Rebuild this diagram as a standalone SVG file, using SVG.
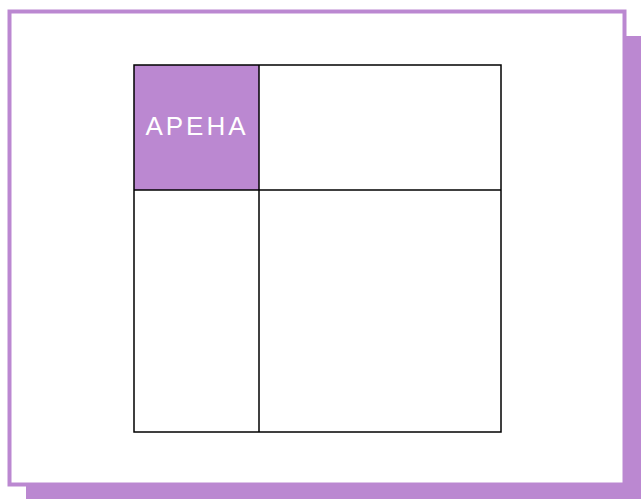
<svg xmlns="http://www.w3.org/2000/svg" width="641" height="499" viewBox="0 0 641 499">
<style>
.cell{fill:#ffffff;stroke:#000000;stroke-width:1.5}
.hl{fill:#bb88d1}
.lbl{font-family:"Liberation Sans",Arial,sans-serif;font-size:26px;fill:#ffffff;text-anchor:middle;letter-spacing:3px}
</style>
<rect id="shadow" x="26" y="36" width="630" height="480" fill="#bb88d1"/>
<rect id="frame" x="9.5" y="11.5" width="615" height="473" fill="#ffffff" stroke="#bb88d1" stroke-width="4"/>
<g id="arena">
<rect class="hl" x="134" y="65" width="125" height="125"/>
<text class="lbl" x="197" y="135">АРЕНА</text>
</g>
<g id="blind"><rect x="259" y="65" width="242" height="125" fill="#ffffff"/></g>
<g id="facade"><rect x="134" y="190" width="125" height="242" fill="#ffffff"/></g>
<g id="unknown"><rect x="259" y="190" width="242" height="242" fill="#ffffff"/></g>
<g id="connectors" fill="none" stroke="#000000" stroke-width="1.5">
<rect x="134" y="65" width="367" height="367"/>
<line x1="259" y1="65" x2="259" y2="432"/>
<line x1="134" y1="190" x2="501" y2="190"/>
</g>
</svg>
